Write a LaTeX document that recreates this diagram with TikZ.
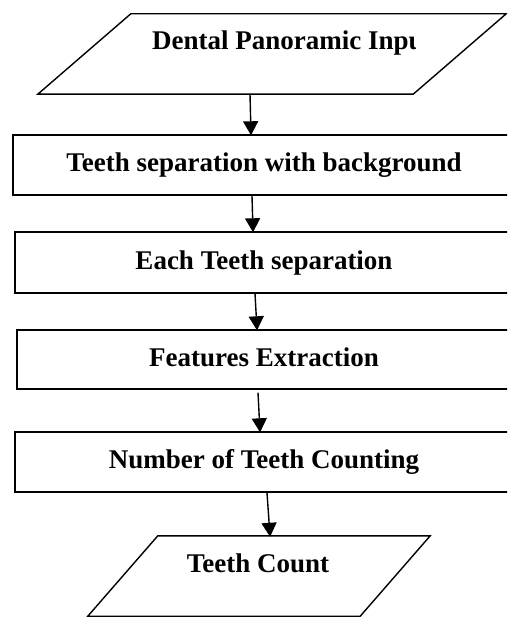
\documentclass[tikz,border=0pt]{standalone}
\usepackage{fontspec}
\setmainfont{Liberation Serif}
\usetikzlibrary{arrows.meta}
\begin{document}
\begin{tikzpicture}[x=1pt,y=-1pt,
  every node/.style={font=\fontsize{27}{31}\selectfont\bfseries},
  line/.style={line width=1.4pt},
  stepbox/.style={draw,line width=1.4pt,inner sep=0pt,text height=18pt,text depth=5pt},
  frame/.style={inner sep=0pt,draw=none},
  arr/.style={line width=1.4pt,-{Triangle[length=14pt,width=15pt]},shorten >=-1pt}]
\useasboundingbox (0,0) rectangle (507,617);
\clip (0,0) rectangle (507,617);

% input parallelogram
\node[frame,minimum width=468pt,minimum height=80pt] (in) at (272,54) {};
\draw[line] (in.south west) -- ([xshift=-93pt]in.south east) -- (in.north east)
  -- ([xshift=93pt]in.north west) -- cycle;
\begin{scope}
  \clip (0,0) rectangle (415,100);
  \node[inner sep=0pt,anchor=base west] (intext) at (152,49.5) {Dental Panoramic Input};
\end{scope}

% processing steps
\node[stepbox,minimum width=502pt,minimum height=60pt] (b1) at (264,165)
  {Teeth separation with background};
\node[stepbox,minimum width=498pt,minimum height=61pt] (b2) at (264,262.5)
  {Each Teeth separation};
\node[stepbox,minimum width=494pt,minimum height=59pt] (b3) at (264,359.5)
  {Features Extraction};
\node[stepbox,minimum width=498pt,minimum height=60pt] (b4) at (264,462)
  {Number of Teeth Counting};

% output parallelogram
\node[frame,minimum width=342pt,minimum height=80pt] (out) at (259,576) {};
\draw[line] (out.south west) -- ([xshift=-70pt]out.south east) -- (out.north east)
  -- ([xshift=70pt]out.north west) -- cycle;
\node[inner sep=0pt,anchor=base] (outtext) at (258,572) {Teeth Count};

% connectors
\draw[arr] ([xshift=-22pt]in.south) -- ([xshift=-13pt]b1.north);
\draw[arr] ([xshift=-12pt]b1.south) -- ([xshift=-11pt]b2.north);
\draw[arr] ([xshift=-9pt]b2.south) -- ([xshift=-7pt]b3.north);
\draw[arr] ([xshift=-6pt,yshift=-3pt]b3.south) -- ([xshift=-4pt]b4.north);
\draw[arr] ([xshift=3pt]b4.south) -- ([xshift=11pt]out.north);
\end{tikzpicture}
\end{document}
